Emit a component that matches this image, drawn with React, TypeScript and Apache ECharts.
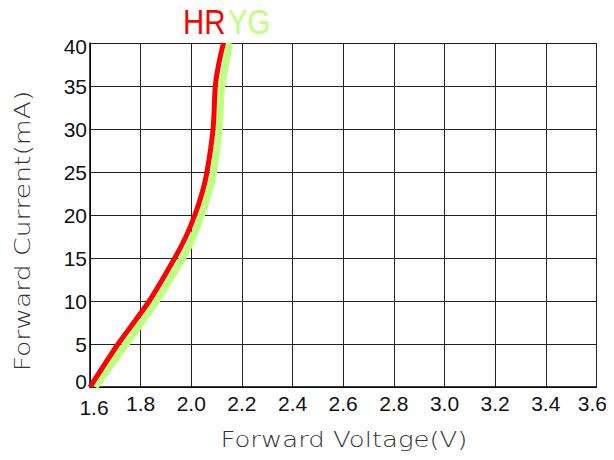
import React, { useEffect, useRef } from "react";
import * as echarts from "echarts";

const xTicks = ["1.6", "1.8", "2.0", "2.2", "2.4", "2.6", "2.8", "3.0", "3.2", "3.4", "3.6"];
const yTicks = ["0", "5", "10", "15", "20", "25", "30", "35", "40"];

const hrVoltage = [1.6, 1.711, 1.834, 1.935, 1.979, 2.014, 2.042, 2.062, 2.086, 2.095, 2.108, 2.127];
const hrCurrent = [0, 5, 10, 15, 17.5, 20, 22.5, 25, 30, 35, 37.5, 40];

const ygVoltage = [1.62, 1.743, 1.862, 1.966, 2.008, 2.04, 2.068, 2.088, 2.11, 2.12, 2.136, 2.15];
const ygCurrent = [0, 5, 10, 15, 17.5, 20, 22.5, 25, 30, 35, 37.5, 40];

const seriesNames = ["HR", "YG"];
const xTitle = "Forward Voltage(V)";
const yTitle = "Forward Current(mA)";

const sans = "'Liberation Sans', Arial, sans-serif";
const thin = "'DejaVu Sans', sans-serif";

export default function App() {
  const ref = useRef<HTMLDivElement>(null);
  useEffect(() => {
    if (!ref.current) return;
    const chart = echarts.init(ref.current, null, { renderer: "svg" });
    const hrData = hrVoltage.map((v, i) => [v, hrCurrent[i]]);
    const ygData = ygVoltage.map((v, i) => [v, ygCurrent[i]]);
    const labelFont = { fontFamily: sans, fontSize: 21, color: "#111" };
    chart.setOption({
      animation: false,
      backgroundColor: "#ffffff",
      grid: { left: 90, right: 13, top: 43, bottom: 73, containLabel: false },
      xAxis: {
        type: "value",
        min: 1.6,
        max: 3.6,
        interval: 0.2,
        axisLine: { show: true, lineStyle: { color: "#000", width: 1.5 } },
        axisTick: { show: false },
        splitLine: { show: true, lineStyle: { color: "#222", width: 1 } },
        axisLabel: {
          margin: 6,
          ...labelFont,
          formatter: (v: number) => {
            const s = v.toFixed(1);
            if (xTicks.indexOf(s) < 0) return "";
            if (s === xTicks[0]) return `{first|${s}}`;
            if (s === xTicks[xTicks.length - 1]) return `{last|${s}}{sp|}`;
            return s;
          },
          rich: {
            first: { ...labelFont, padding: [4, 0, 0, 8] },
            last: { ...labelFont },
            sp: { width: 8, height: 1 },
          },
        },
      },
      yAxis: {
        type: "value",
        min: 0,
        max: 40,
        interval: 5,
        axisLine: { show: true, lineStyle: { color: "#000", width: 1.5 } },
        axisTick: { show: false },
        splitLine: { show: true, lineStyle: { color: "#222", width: 1 } },
        axisLabel: {
          margin: 3,
          ...labelFont,
          formatter: (v: number) => {
            const s = String(Math.round(v));
            if (yTicks.indexOf(s) < 0) return "";
            if (s === yTicks[0]) return `{zero|${s}}`;
            if (s === yTicks[yTicks.length - 1]) return `{top|${s}}`;
            return s;
          },
          rich: {
            zero: { ...labelFont, padding: [0, 0, 12, 0] },
            top: { ...labelFont, padding: [6, 0, 0, 0] },
          },
        },
      },
      graphic: [
        {
          type: "text",
          x: 183,
          y: 22,
          style: {
            text: seriesNames[0],
            fill: "#ff0000",
            font: `35px ${sans}`,
            textVerticalAlign: "middle",
          },
          scaleX: 0.84,
        },
        {
          type: "text",
          x: 228,
          y: 22,
          style: {
            text: seriesNames[1],
            fill: "#bfff7f",
            font: `35px ${sans}`,
            textVerticalAlign: "middle",
          },
          scaleX: 0.84,
        },
        {
          type: "text",
          x: 344,
          y: 440,
          scaleX: 1.18,
          style: {
            text: xTitle,
            fill: "#333",
            font: `200 22px ${thin}`,
            textAlign: "center",
            textVerticalAlign: "middle",
          },
        },
        {
          type: "text",
          x: 22,
          y: 231,
          rotation: Math.PI / 2,
          scaleX: 1.21,
          style: {
            text: yTitle,
            fill: "#333",
            font: `200 22px ${thin}`,
            textAlign: "center",
            textVerticalAlign: "middle",
          },
        },
      ],
      series: [
        {
          name: seriesNames[1],
          type: "line",
          data: ygData,
          smooth: 0.3,
          showSymbol: false,
          symbol: "none",
          lineStyle: { color: "#bfff7f", width: 7 },
          z: 2,
        },
        {
          name: seriesNames[0],
          type: "line",
          data: hrData,
          smooth: 0.3,
          showSymbol: false,
          symbol: "none",
          lineStyle: { color: "#ff0000", width: 5 },
          z: 3,
        },
      ],
    });
    return () => chart.dispose();
  }, []);
  return <div ref={ref} style={{ width: 614, height: 460, margin: -8 }} />;
}
